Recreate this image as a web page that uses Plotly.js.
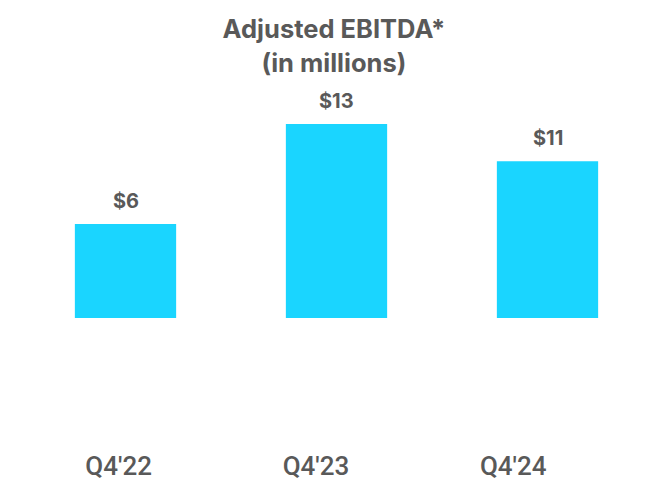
<!DOCTYPE html>
<html><head><meta charset="utf-8">
<script src="https://cdn.plot.ly/plotly-3.0.1.min.js"></script>
<style>body{margin:0;background:#fff}#c{width:672px;height:480px}</style>
</head><body><div id="c"></div>
<script>
const categories = ["Q4'22", "Q4'23", "Q4'24"];
const values = [6.3, 13.0, 10.5];
const labels = ["$6", "$13", "$11"];

const gray = '#595959';
const bars = {
  type: 'bar', x: categories, y: values,
  marker: {color: '#1AD5FF'},
  hoverinfo: 'none'
};
// invisible carrier trace so the label axis shows the categories
const labelCarrier = {
  type: 'scatter', mode: 'markers', x: categories, y: categories.map(() => 0),
  xaxis: 'x2', yaxis: 'y', marker: {opacity: 0, size: 1}, hoverinfo: 'none'
};
const annotations = categories.map((c, i) => ({
  x: c, y: values[i], text: labels[i], showarrow: false,
  xref: 'x', yref: 'y',
  yanchor: 'bottom', yshift: 9,
  font: {family: 'Inter, Roboto, sans-serif', size: 20, color: gray, weight: 700}
}));
const layout = {
  width: 672, height: 480,
  margin: {l: 20, r: 19, t: 90, b: 40},
  paper_bgcolor: '#fff', plot_bgcolor: 'rgba(0,0,0,0)',
  bargap: 0.52,
  showlegend: false,
  title: {
    text: 'Adjusted EBITDA*<br>(in millions)',
    x: 0.497, xanchor: 'center', y: 0.92, yanchor: 'top',
    font: {family: 'Inter, Roboto, sans-serif', size: 25.5, color: gray, weight: 700}
  },
  xaxis: {
    type: 'category', range: [-0.5, 2.5], showgrid: false, zeroline: false, showline: false,
    ticks: '', showticklabels: false
  },
  xaxis2: {
    type: 'category', range: [-0.5, 2.5], domain: [0, 0.935], anchor: 'y',
    showgrid: false, zeroline: false, showline: false,
    ticks: '', ticklabelstandoff: 8,
    tickfont: {family: 'Roboto, Inter, sans-serif', size: 26, color: gray, weight: 500}
  },
  yaxis: {
    range: [-8.18, 15.28], showgrid: false, zeroline: false,
    showticklabels: false, showline: false, ticks: ''
  },
  annotations: annotations
};
Plotly.newPlot('c', [bars, labelCarrier], layout, {displayModeBar: false, staticPlot: true});
</script></body></html>
